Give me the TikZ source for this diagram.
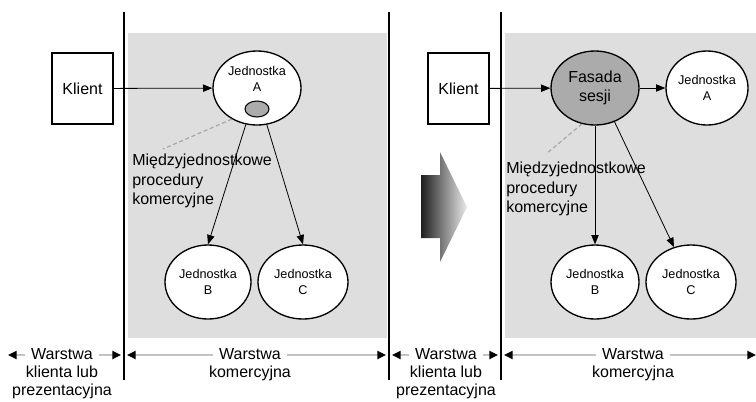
\documentclass[tikz,border=0pt]{standalone}
\usepackage{fontspec}
\setmainfont{Liberation Sans}
\usetikzlibrary{positioning,arrows.meta,shapes.geometric}
\definecolor{cZone}{HTML}{DEDEDE}
\definecolor{cFacade}{HTML}{ABABAB}
\definecolor{cDash}{HTML}{A6A6A6}
\definecolor{cDim}{HTML}{C4C4C4}

\begin{document}
\begin{tikzpicture}[x=0.75pt,y=-0.75pt,
  font=\fontsize{12}{14.6}\selectfont,
  unit/.style={ellipse,draw,line width=1pt,fill=white,align=center,
               inner sep=0pt,minimum width=66pt,minimum height=55.5pt,
               font=\fontsize{9.5}{12}\selectfont},
  client/.style={draw,line width=1.1pt,fill=white,inner sep=0pt,
                 minimum width=45.75pt,minimum height=53.25pt},
  ar/.style={-{Triangle[length=7pt,width=5.5pt]},line width=0.6pt},
  link/.style={cDash,line width=0.9pt,dash pattern=on 3pt off 2pt},
  dim/.style={{Triangle[color=black,length=6.5pt,width=6pt]}-{Triangle[color=black,length=6.5pt,width=6pt]},
              cDim,line width=1.6pt},
  wall/.style={line width=2.2pt},
  lbl/.style={inner xsep=5pt,inner ysep=1pt,fill=white},
  sublbl/.style={align=center,inner sep=0pt,below=3.5pt of #1,
                 font=\fontsize{12}{13.6}\selectfont}]

\useasboundingbox (0,0) rectangle (756,401);

% business tier zones
\fill[cZone] (128,33) rectangle (387,338);
\fill[cZone] (505,33) rectangle (756,338);

% tier borders
\draw[wall] (124,12) -- (124,380);
\draw[wall] (389,12) -- (389,380);
\draw[wall] (501,12) -- (501,380);

% left: before
\node[client] (klientL) at (82.5,88.5) {Klient};
\node[unit] (jaL) at (257,88) {};
\node[align=center,inner sep=0pt,font=\fontsize{9.5}{12}\selectfont] (jaLtxt) at (257,79) {Jednostka\\A};
\node[ellipse,draw,line width=0.8pt,fill=cFacade,minimum width=18pt,minimum height=12pt,inner sep=0pt] (dotL) at (257,109) {};
\node[unit,minimum width=64.5pt] (jbL) at (208,282) {Jednostka\\B};
\node[unit,minimum width=67.5pt] (jcL) at (303,282) {Jednostka\\C};
\node[align=left,anchor=north west,inner sep=0pt] (procL) at (132,154) {Międzyjednostkowe\\procedury\\komercyjne};
\coordinate (dashL) at (163,149);

\draw[ar] (klientL) -- (jaL);
\draw[ar] (jaL.253) -- (jbL.north);
\draw[ar] (jaL.285) -- (jcL.north);
\draw[link] (jaL.231) -- (dashL);

% right: after
\node[client] (klientR) at (458.5,88.5) {Klient};
\node[unit,fill=cFacade,font=\fontsize{12}{14.6}\selectfont] (fasada) at (595,88) {Fasada\\sesji};
\node[unit,minimum width=61.5pt] (jaR) at (707,88) {Jednostka\\A};
\node[unit] (jbR) at (595,282) {Jednostka\\B};
\node[unit,minimum width=67.5pt] (jcR) at (691,282) {Jednostka\\C};
\node[align=left,anchor=north west,inner sep=0pt] (procR) at (506,162) {Międzyjednostkowe\\procedury\\komercyjne};
\coordinate (dashR) at (546,154);

\draw[ar] (klientR) -- (fasada);
\draw[ar] (fasada) -- (jaR);
\draw[ar] (fasada.south) -- (jbR.north);
\draw[ar] (fasada.300) -- (jcR.116);
\draw[link] (fasada.250) -- (dashR);

% transition arrow
\shade[left color=black!88,right color=black!8]
  (421,175) -- (440,175) -- (440,152) -- (467,207) -- (440,262) -- (440,238) -- (421,238) -- cycle;

% tier dimensions
\coordinate (dL1a) at (8,355);   \coordinate (dL1b) at (121,355);
\coordinate (dL2a) at (127,355); \coordinate (dL2b) at (386,355);
\coordinate (dR1a) at (392,355); \coordinate (dR1b) at (498,355);
\coordinate (dR2a) at (504,355); \coordinate (dR2b) at (756,355);
\draw[dim] (dL1a) -- (dL1b);
\draw[dim] (dL2a) -- (dL2b);
\draw[dim] (dR1a) -- (dR1b);
\draw[dim] (dR2a) -- (dR2b);
\node[lbl] (tierL1) at (62,354) {Warstwa};
\node[lbl] (tierL2) at (250,354) {Warstwa};
\node[lbl] (tierR1) at (446,354) {Warstwa};
\node[lbl] (tierR2) at (633,354) {Warstwa};
\node[sublbl=tierL1] (tierL1b) {klienta lub\\prezentacyjna};
\node[sublbl=tierL2] (tierL2b) {komercyjna};
\node[sublbl=tierR1] (tierR1b) {klienta lub\\prezentacyjna};
\node[sublbl=tierR2] (tierR2b) {komercyjna};
\end{tikzpicture}
\end{document}
